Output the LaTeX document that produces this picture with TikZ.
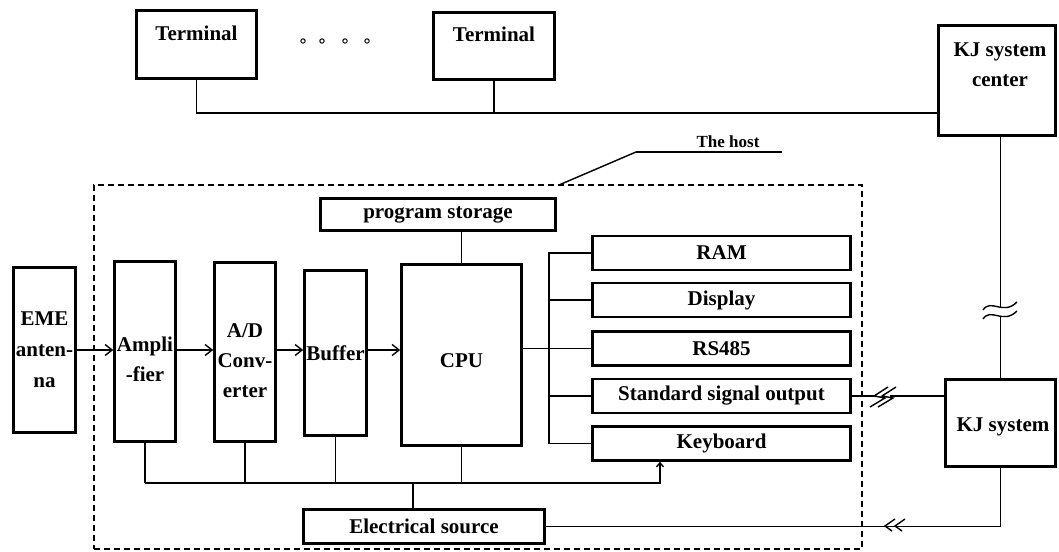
\documentclass[tikz,border=0pt]{standalone}
\usepackage{fontspec}
\setmainfont{Liberation Serif}
\usetikzlibrary{arrows.meta}

\begin{document}
\begin{tikzpicture}[x=1pt,y=-1pt,>={Straight Barb[length=7pt,width=11pt]},
    box/.style={draw,line width=2.6pt,inner sep=0pt,align=center,
      font=\bfseries\fontsize{21}{31}\selectfont},
    txt/.style={inner sep=0pt,align=center,
      font=\bfseries\fontsize{21}{30}\selectfont},
    wire/.style={line width=1.4pt},
    hostline/.style={draw,line width=1.3pt,dash pattern=on 6pt off 4pt}]
  \useasboundingbox (0,0) rectangle (1059,551);

  % terminals and the system center
  \node[box,minimum width=120,minimum height=68] (term1) at (196.5,44.5) {};
  \node[txt] (term1text) at (196.5,33) {Terminal};
  \node[box,minimum width=121,minimum height=67] (term2) at (494,46) {};
  \node[txt] (term2text) at (494,34) {Terminal};
  \draw[line width=1pt] (303,41) circle (2.2);
  \draw[line width=1pt] (322,41) circle (2.2);
  \draw[line width=1pt] (345,41) circle (2.2);
  \draw[line width=1pt] (367,41) circle (2.2);
  \node[box,minimum width=117,minimum height=110] (kjc) at (997,80.5) {};
  \node[txt] (kjctext) at (1000,65) {KJ system\\center};
  \node[box,minimum width=110,minimum height=87] (kj) at (1000.5,423) {};
  \node[txt] (kjtext) at (1003,427) {KJ system};

  % the host
  \node[hostline,minimum width=768,minimum height=364] (host) at (478,367) {};
  \node[txt,font=\bfseries\fontsize{17}{20}\selectfont] (hostname) at (728,142) {The host};
  \coordinate (tagL) at (636,152);
  \coordinate (tagR) at (782,152);
  \coordinate (hosttip) at (559,185);

  \node[box,minimum width=62,minimum height=165] (eme) at (44.5,350) {EME\\anten-\\na};
  \node[box,minimum width=61,minimum height=180] (amp) at (145,351.5) {};
  \node[txt] (amptext) at (145,359) {Ampli\\-fier};
  \node[box,minimum width=61,minimum height=179] (adc) at (245,352) {};
  \node[txt] (adctext) at (245,361) {A/D\\Conv-\\erter};
  \node[box,minimum width=62,minimum height=165] (buf) at (335.5,353) {Buffer};
  \node[box,minimum width=120,minimum height=181] (cpu) at (461.5,355) {};
  \node[txt] (cputext) at (461.5,361) {CPU};
  \node[box,minimum width=235,minimum height=32] (prog) at (438,214.5) {program storage};

  \node[box,minimum width=258,minimum height=34] (ram) at (721.5,253) {RAM};
  \node[box,minimum width=258,minimum height=34] (disp) at (721.5,300) {Display};
  \node[box,minimum width=258,minimum height=34] (rs) at (721.5,348.5) {RS485};
  \node[box,minimum width=258,minimum height=34] (sso) at (721.5,396) {Standard signal output};
  \node[box,minimum width=258,minimum height=34] (key) at (721.5,443.5) {Keyboard};
  \node[box,minimum width=241,minimum height=34] (src) at (424,526.5) {Electrical source};

  \coordinate (tbus) at (937,113);
  \coordinate (cbus) at (549,0);
  \coordinate (pbus) at (0,483);
  \coordinate (keyin) at (660,0);

  % wires
  \draw[wire] (term1.south) |- (tbus);
  \draw[wire] (term2.south) -- (term2.south |- tbus);
  \draw[wire] (kj.north |- kjc.south) -- (kj.north |- 0,307);
  \draw[wire] (kj.north |- 0,316) -- (kj.north);
  \draw[wire] (983,310) .. controls (991,298) and (1003,316) .. (1017,302);
  \draw[wire] (983,319) .. controls (991,307) and (1003,325) .. (1017,311);

  \draw[wire] (hosttip) -- (tagL);
  \draw[line width=2.8pt] (tagL) -- (tagR);

  \draw[wire,->] (eme.east) -- (eme.east -| amp.west);
  \draw[wire,->] (amp.east |- eme.east) -- (adc.west |- eme.east);
  \draw[wire,->] (adc.east |- eme.east) -- (buf.west |- eme.east);
  \draw[wire,->] (buf.east |- eme.east) -- (cpu.west |- eme.east);
  \draw[wire] (cpu.north |- prog.south) -- (cpu.north);

  \draw[wire] (ram.west) -- (ram.west -| cbus) -- (key.west -| cbus) -- (key.west);
  \draw[wire] (disp.west) -- (disp.west -| cbus);
  \draw[wire] (sso.west) -- (sso.west -| cbus);
  \draw[wire] (cpu.east |- rs.west) -- (rs.west);

  \draw[wire] (amp.south) -- (amp.south |- pbus);
  \draw[wire] (adc.south) -- (adc.south |- pbus);
  \draw[wire] (buf.south) -- (buf.south |- pbus);
  \draw[wire] (cpu.south) -- (cpu.south |- pbus);
  \draw[wire,-{Straight Barb[length=4pt,width=7pt]}] (amp.south |- pbus) -- (keyin |- pbus) -- (keyin |- key.south);
  \draw[wire] ([xshift=-11pt]src.north) -- ([xshift=-11pt]src.north |- pbus);

  \draw[wire] (sso.east) -- (874,396);
  \draw[wire] (888,387) -- (874,396) -- (885,398) -- (870,407);
  \draw[wire] (896,387) -- (882,396) -- (893,398) -- (878,407);
  \draw[wire] (890,396) -- (sso.east -| kj.west);

  \draw[wire] (src.east) -- (src.east -| kj.south) -- (kj.south);
  \draw[wire] (895,519) -- (885,526) -- (892,531);
  \draw[wire] (905,519) -- (895,526) -- (902,531);
\end{tikzpicture}
\end{document}
